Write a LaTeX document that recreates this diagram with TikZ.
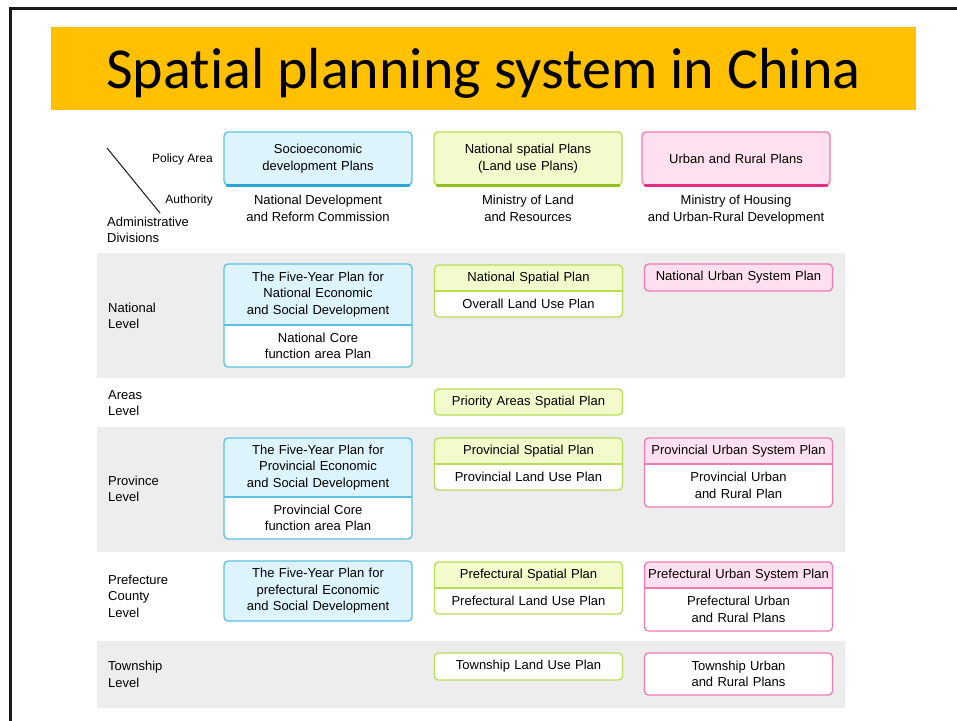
\documentclass[tikz,border=0pt]{standalone}
\usepackage{fontspec}
\setmainfont{Liberation Sans}
\newfontfamily\titlefont{Carlito}[Ligatures={NoCommon,NoContextual,NoRequired}]
\usetikzlibrary{positioning,fit,backgrounds}

\definecolor{titleYellow}{HTML}{FFC000}
\definecolor{bandGray}{HTML}{EDEDED}
\definecolor{blueFill}{HTML}{DDF4FC}
\definecolor{blueLine}{HTML}{5BC0E3}
\definecolor{blueDark}{HTML}{2AA5D5}
\definecolor{greenFill}{HTML}{F1FBCB}
\definecolor{greenLine}{HTML}{BADD58}
\definecolor{greenDark}{HTML}{95C11F}
\definecolor{pinkFill}{HTML}{FFE0F1}
\definecolor{pinkLine}{HTML}{F27AB2}
\definecolor{pinkDark}{HTML}{E5307F}

\newcommand{\planfont}{\fontsize{13}{16.5}\selectfont}

\tikzset{
  part/.style={font=\planfont, align=center, text width=184pt, inner xsep=2pt,
    inner ysep=0pt, outer sep=0pt, minimum height=#1},
  part/.default=26pt,
  frame/.style={draw=#1Line, line width=1.3pt, rounded corners=4pt},
  level/.style={font=\planfont, align=left, anchor=west, inner sep=0pt},
  authority/.style={font=\planfont, align=center, inner sep=0pt},
  band/.style={fill=bandGray},
}

\begin{document}
\begin{tikzpicture}[x=1pt, y=-1pt]
    \useasboundingbox (0,0) rectangle (957,720);
    \draw[line width=3pt, black!90] (10,730) -- (10,8) -- (970,8);

    % title
    \node[fill=titleYellow, minimum width=865pt, minimum height=83pt, inner sep=0pt,
      text height=52pt, text depth=13pt, font=\titlefont\fontsize{58}{60}\selectfont]
      (title) at (483.5,68.5) {Spatial planning system in China};

    % level bands
    \begin{scope}[on background layer]
        \fill[band] (97,253) rectangle (845,378);
        \fill[band] (97,427) rectangle (845,552);
        \fill[band] (97,641) rectangle (845,708);
    \end{scope}

    % header
    \coordinate (diag-a) at (107,148);
    \coordinate (diag-b) at (160,213);
    \draw[line width=1.1pt, black!85] (diag-a) -- (diag-b);
    \node[level, anchor=east, font=\fontsize{12}{14}\selectfont] (policy) at (213,159) {Policy Area};
    \node[level, anchor=east, font=\fontsize{12}{14}\selectfont] (auth) at (213,200) {Authority};
    \node[level] (admin) at (107,230) {Administrative\\Divisions};

    \node[part=53pt, frame=blue, fill=blueFill] (hb) at (318,158.5) {Socioeconomic\\development Plans};
    \node[part=53pt, frame=green, fill=greenFill, right=22pt of hb] (hg) {National spatial Plans\\(Land use Plans)};
    \node[part=53pt, frame=pink, fill=pinkFill, right=20pt of hg] (hp) {Urban and Rural Plans};
    \foreach \n/\c in {hb/blue, hg/green, hp/pink}
        \draw[\c Dark, line width=3pt, line cap=round] ([xshift=3pt]\n.south west) -- ([xshift=-3pt]\n.south east);

    \node[authority, below=10pt of hb] (auth-b) {National Development\\and Reform Commission};
    \node[authority, below=10pt of hg] (auth-g) {Ministry of Land\\and Resources};
    \node[authority, below=10pt of hp] (auth-p) {Ministry of Housing\\and Urban-Rural Development};

    % level labels
    \node[level] (lv-nat) at (108,316) {National\\Level};
    \node[level] (lv-are) at (108,403) {Areas\\Level};
    \node[level] (lv-pro) at (108,489) {Province\\Level};
    \node[level] (lv-pre) at (108,596) {Prefecture\\County\\Level};
    \node[level] (lv-tow) at (108,674.5) {Township\\Level};

    % national level
    \node[part=61pt] (nat-b1) at (318,294.5) {The Five-Year Plan for\\National Economic\\and Social Development};
    \node[part=42pt, below=0pt of nat-b1] (nat-b2) {National Core\\function area Plan};
    \node[part] (nat-g1) at (528.5,278) {National Spatial Plan};
    \node[part, below=0pt of nat-g1] (nat-g2) {Overall Land Use Plan};
    \node[part=27pt, frame=pink, fill=pinkFill] (nat-p) at (738.5,277.5) {National Urban System Plan};

    % areas level
    \node[part, frame=green, fill=greenFill] (are-g) at (528.5,402) {Priority Areas Spatial Plan};

    % province level
    \node[part=59pt] (pro-b1) at (318,467.5) {The Five-Year Plan for\\Provincial Economic\\and Social Development};
    \node[part=42pt, below=0pt of pro-b1] (pro-b2) {Provincial Core\\function area Plan};
    \node[part] (pro-g1) at (528.5,451) {Provincial Spatial Plan};
    \node[part, below=0pt of pro-g1] (pro-g2) {Provincial Land Use Plan};
    \node[part] (pro-p1) at (738.5,451) {Provincial Urban System Plan};
    \node[part=43pt, below=0pt of pro-p1] (pro-p2) {Provincial Urban\\and Rural Plan};

    % prefecture level
    \node[part=60pt, frame=blue, fill=blueFill] (pre-b) at (318,591) {The Five-Year Plan for\\prefectural Economic\\and Social Development};
    \node[part] (pre-g1) at (528.5,575) {Prefectural Spatial Plan};
    \node[part, below=0pt of pre-g1] (pre-g2) {Prefectural Land Use Plan};
    \node[part] (pre-p1) at (738.5,575) {Prefectural Urban System Plan};
    \node[part=43pt, below=0pt of pre-p1] (pre-p2) {Prefectural Urban\\and Rural Plans};

    % township level
    \node[part=27pt, frame=green, fill=white] (tow-g) at (528.5,666.5) {Township Land Use Plan};
    \node[part=42pt, frame=pink, fill=white] (tow-p) at (738.5,674) {Township Urban\\and Rural Plans};

    % frames of the two-part plans
    \begin{scope}[on background layer]
        \foreach \a/\b/\c in {nat-b1/nat-b2/blue, nat-g1/nat-g2/green, pro-b1/pro-b2/blue,
                              pro-g1/pro-g2/green, pro-p1/pro-p2/pink,
                              pre-g1/pre-g2/green, pre-p1/pre-p2/pink} {
            \node[frame=\c, fill=white, inner sep=0pt, fit=(\a)(\b),
              path picture={\fill[\c Fill] (\a.north west) rectangle (\a.south east);}] {};
            \draw[\c Line, line width=1.3pt] (\a.south west) -- (\a.south east);
        }
    \end{scope}
\end{tikzpicture}
\end{document}
